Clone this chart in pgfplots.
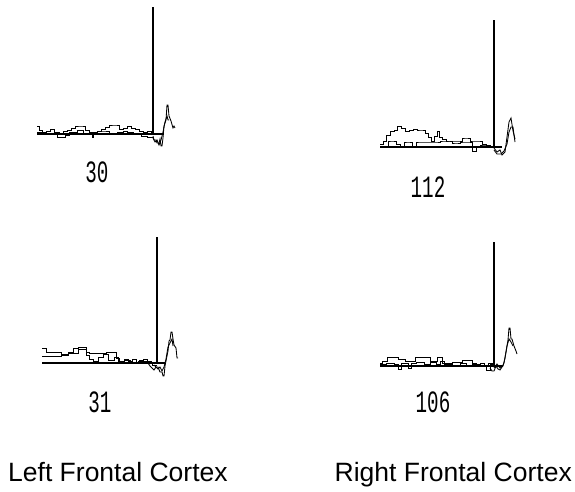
\documentclass[border=0pt]{standalone}
\usepackage{pgfplots}
\pgfplotsset{compat=1.18}
\usepackage{fontspec}
\setmainfont{Liberation Sans}
\newfontfamily\monofont{Liberation Mono}
\pgfplotsset{
  psth/.style={x=1pt, y=1pt, anchor=origin, axis lines=none, clip=false,
    xmin=-5, xmax=145, ymin=-15, ymax=130},
  tr/.style={black, line width=0.85pt, no markers},
  base/.style={black, line width=1.3pt, no markers},
}
\newcommand{\numlab}[1]{\scalebox{0.62}[1]{\fontsize{31}{31}\monofont #1}}
\begin{document}
\begin{tikzpicture}
\useasboundingbox (0,0) rectangle (575pt,491pt);
% ---------------- Panel 30 ----------------
\begin{axis}[psth, at={(37pt,357pt)}]
\addplot[base] coordinates {(0,0) (127,0)};
\addplot[base] coordinates {(116,0) (116,127)};
\addplot[tr, const plot] coordinates {(0,8)(2,4)(5,2)(9,3)(13,5)(17,2)(22,0)(26,3)(30,4)(34,6)(38,8)(44,8)(48,4)(52,2)(55,-3)(56,2)(60,3)(64,5)(68,7)(72,9)(78,9)(82,5)(86,6)(90,8)(94,6)(98,5)(102,3)(106,2)(110,3)(114,1)(116,1)};
\addplot[tr, const plot] coordinates {(0,2)(8,1)(14,0)(20,-3)(28,-1)(32,2)(40,4)(46,1)(52,0)(60,3)(66,3)(72,1)(80,2)(86,3)(90,2)(96,0)(104,-2)(110,-3)(116,-3)};
\addplot[tr] coordinates {(116,-2)(117,-6)(119,-6)(120,-9)(122,-9)(123,-5)(124,-12)(125,-12)(126,-4)(127,8)(129,14)(130,29)(131,29)(132,18)(134,13)(136,6)(137,8)(138,6)};
\addplot[tr] coordinates {(116,-4)(118,-8)(120,-6)(122,-11)(124,-6)(126,2)(128,12)(130,18)(131,14)(132,14)};
\end{axis}
% ---------------- Panel 112 ----------------
\begin{axis}[psth, at={(380pt,344pt)}]
\addplot[base] coordinates {(0,0) (122,0)};
\addplot[base] coordinates {(114,0) (114,127)};
\addplot[tr, const plot] coordinates {(0,3)(3,6)(6,12)(10,16)(14,17)(17,21)(21,19)(25,16)(29,17)(33,18)(37,17)(41,17)(45,14)(48,10)(51,6)(54,11)(57,16)(59,10)(62,8)(66,6)(70,6)(74,6)(78,6)(82,9)(86,9)(90,6)(94,6)(98,6)(102,3)(106,2)(110,0)(114,0)};
\addplot[tr, const plot] coordinates {(0,1)(4,1)(8,6)(12,6)(16,3)(20,1)(24,5)(28,5)(32,1)(36,5)(40,5)(44,5)(48,5)(52,5)(56,5)(60,6)(64,6)(68,6)(72,4)(76,4)(80,5)(84,5)(88,5)(92,-4)(96,0)(100,2)(104,2)(108,0)(112,0)(114,0)};
\addplot[tr] coordinates {(114,-1)(117,-5)(120,-3)(122,-8)(125,-5)(127,10)(129,25)(131,29)(133,16)(135,8)};
\addplot[tr] coordinates {(114,-3)(117,-7)(121,-7)(124,-4)(127,3)(129,15)(131,20)(133,20)(134,12)(135,5)};
\end{axis}
% ---------------- Panel 31 ----------------
\begin{axis}[psth, at={(42pt,128pt)}]
\addplot[base] coordinates {(0,0) (123,0)};
\addplot[base] coordinates {(115,0) (115,126)};
\addplot[tr, const plot] coordinates {(0,15)(4,11)(19,9)(26,11)(31,15)(36,16)(44,11)(47,10)(64,11)(74,5)(77,2)(82,4)(86,2)(90,4)(94,1)(97,3)(101,4)(105,2)(109,0)(115,0)};
\addplot[tr, const plot] coordinates {(0,7)(19,8)(26,10)(36,14)(44,8)(47,4)(51,2)(56,6)(61,9)(66,3)(72,6)(76,1)(82,3)(88,1)(96,2)(104,0)(110,-2)(115,-2)};
\addplot[tr] coordinates {(106,0)(108,-3)(110,-5)(112,-7)(114,-4)(116,-4)(118,-9)(120,-9)(121,-13)(122,-13)(123,-3)(124,2)(126,12)(127,22)(128,23)(129,31)(130,31)(131,24)(132,18)(134,15)(135,5)(136,5)};
\addplot[tr] coordinates {(112,-2)(116,-6)(118,-4)(120,-8)(122,-4)(124,4)(126,16)(128,20)(130,24)(131,17)};
\end{axis}
% ---------------- Panel 106 ----------------
\begin{axis}[psth, at={(380pt,125pt)}]
\addplot[base] coordinates {(0,0) (123,0)};
\addplot[base] coordinates {(114,0) (114,124)};
\addplot[tr, const plot] coordinates {(0,3)(2,5)(7,9)(18,7)(25,5)(35,9)(50,5)(57,9)(62,3)(72,4)(82,6)(92,3)(96,1)(100,3)(104,1)(108,3)(112,0)(114,0)};
\addplot[tr, const plot] coordinates {(0,2)(6,3)(14,2)(18,-3)(21,3)(28,-2)(31,3)(36,4)(44,2)(50,4)(56,2)(60,5)(64,2)(72,1)(80,3)(86,1)(92,2)(100,0)(106,-4)(110,2)(114,0)};
\addplot[tr] coordinates {(110,-2)(112,-5)(114,-5)(116,0)(118,-3)(120,-4)(122,-1)(124,3)(126,14)(128,26)(129,38)(130,38)(131,27)(132,27)(134,20)(136,15)(137,12)};
\addplot[tr] coordinates {(114,-2)(117,2)(120,-2)(123,0)(125,8)(127,20)(129,27)(131,24)(133,20)};
\end{axis}
% ---------------- labels ----------------
\node at (97pt,319pt) {\numlab{30}};
\node at (428pt,304pt) {\numlab{112}};
\node at (100pt,89pt) {\numlab{31}};
\node at (433pt,89pt) {\numlab{106}};
\node[font=\fontsize{26.5}{30}\selectfont, anchor=base west, inner sep=0pt] at (8pt,10pt) {Left Frontal Cortex};
\node[font=\fontsize{26.5}{30}\selectfont, anchor=base east, inner sep=0pt] at (572pt,10pt) {Right Frontal Cortex};
\end{tikzpicture}
\end{document}
